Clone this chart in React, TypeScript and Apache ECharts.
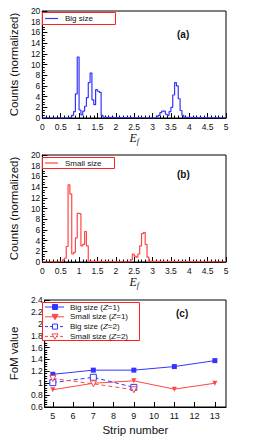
import React, { useEffect, useRef } from "react";
import * as echarts from "echarts";

// ---------- Data ----------
const BIN_WIDTH = 0.05;
// Panel (a) Big size: left bin edges and counts (only non-empty region)
const bigEdges = [0.70, 0.75, 0.80, 0.85, 0.90, 0.95, 1.00, 1.05, 1.10, 1.15, 1.20, 1.25, 1.30, 1.35, 1.40, 1.45, 1.50, 1.55, 1.60, 1.65,
  3.10, 3.15, 3.20, 3.25, 3.30, 3.35, 3.40, 3.45, 3.50, 3.55, 3.60, 3.65, 3.70, 3.75, 3.80, 3.85];
const bigCounts = [0.1, 0.2, 0.5, 1.2, 4.5, 11.4, 1.5, 0.6, 1.3, 2.2, 3.8, 6.6, 8.4, 3.4, 2.5, 5.3, 5.0, 4.8, 0.5, 0.1,
  0.2, 0.5, 1.0, 1.3, 1.3, 0.7, 0.5, 1.2, 2.0, 4.3, 6.6, 6.0, 3.6, 1.4, 0.5, 0.1];
// Panel (b) Small size
const smallEdges = [0.50, 0.55, 0.60, 0.65, 0.70, 0.75, 0.80, 0.85, 0.90, 0.95, 1.00, 1.05, 1.10, 1.15, 1.20, 1.25,
  2.35, 2.40, 2.45, 2.50, 2.55, 2.60, 2.65, 2.70, 2.75, 2.80, 2.85, 2.90];
const smallCounts = [0.1, 0.4, 0.7, 2.9, 14.4, 12.7, 1.5, 1.8, 4.5, 9.1, 9.0, 3.0, 3.3, 5.7, 3.0, 0.1,
  0.1, 0.4, 1.5, 1.1, 0.9, 1.5, 3.0, 5.3, 5.5, 3.3, 0.9, 0.1];

// Panel (c)
const strips = [5, 7, 9, 11, 13];
const bigZ1 = [1.15, 1.22, 1.22, 1.28, 1.38];
const smallZ1 = [0.89, 1.0, 1.04, 0.9, 1.0];
const stripsZ2 = [5, 7, 9];
const bigZ2 = [1.01, 1.1, 0.93];
const smallZ2 = [1.08, 0.99, 0.89];

const histXTicks = ["0", "0.5", "1", "1.5", "2", "2.5", "3", "3.5", "4", "4.5", "5"];
const stripTicks = [5, 6, 7, 8, 9, 10, 11, 12, 13];
const fomLegend = ["Big size (Z=1)", "Small size (Z=1)", "Big size (Z=2)", "Small size (Z=2)"];

const BLUE = "#3434ff";
const RED = "#ff4646";
const LEG_BORDER = "#ff2020";
const FONT = "Liberation Sans, Arial, sans-serif";

function histData(edges: number[], counts: number[]) {
  const d: number[][] = [[0, 0]];
  for (let i = 0; i < edges.length; i++) {
    const prevEnd = i > 0 ? edges[i - 1] + BIN_WIDTH : null;
    if (prevEnd !== null && Math.abs(prevEnd - edges[i]) > 1e-6) d.push([prevEnd, 0]);
    d.push([edges[i], counts[i]]);
  }
  d.push([edges[edges.length - 1] + BIN_WIDTH, 0]);
  d.push([5, 0]);
  return d;
}

export default function App() {
  const ref = useRef<HTMLDivElement>(null);
  useEffect(() => {
    if (!ref.current) return;
    const chart = echarts.init(ref.current, undefined, { renderer: "svg" });

    const tickLabel = { fontSize: 8.5, color: "#111", fontFamily: FONT };
    const gridBase = { show: true, borderColor: "#000", borderWidth: 1, backgroundColor: "transparent" };
    const efName = {
      name: "{e|E}{s|f}",
      nameLocation: "middle" as const,
      nameGap: 13,
      nameTextStyle: {
        rich: {
          e: { fontFamily: "Liberation Serif, serif", fontStyle: "italic", fontSize: 12, color: "#111" },
          s: { fontFamily: "Liberation Serif, serif", fontStyle: "italic", fontSize: 8, color: "#111", padding: [6, 0, 0, 0] },
        },
      },
    };
    const histX = (gi: number) => ({
      type: "value" as const,
      gridIndex: gi,
      min: 0,
      max: 5,
      interval: 0.5,
      axisLine: { show: true, lineStyle: { color: "#000" } },
      axisTick: { show: true, inside: true, length: 5, lineStyle: { color: "#000" } },
      minorTick: { show: true, splitNumber: 5, length: 2.5, lineStyle: { color: "#000" } },
      splitLine: { show: false },
      axisLabel: { ...tickLabel, margin: 4, formatter: (v: number) => histXTicks[Math.round(v * 2)] ?? "" },
      ...efName,
    });
    const histY = (gi: number) => ({
      type: "value" as const,
      gridIndex: gi,
      min: 0,
      max: 20,
      interval: 2,
      axisLine: { show: true, lineStyle: { color: "#000" } },
      axisTick: { show: true, inside: true, length: 5, lineStyle: { color: "#000" } },
      minorTick: { show: true, splitNumber: 4, length: 2.5, lineStyle: { color: "#000" } },
      splitLine: { show: false },
      axisLabel: { ...tickLabel, margin: 2 },
      name: "Counts (normalized)",
      nameLocation: "middle" as const,
      nameGap: 17,
      nameTextStyle: { fontSize: 11.5, fontFamily: FONT, color: "#111" },
    });

    const legendText = { fontSize: 8, fontFamily: FONT, fill: "#111" };

    // ----- graphic legends -----
    const graphics: any[] = [];
    const legBox = (x: number, y: number, w: number, h: number) => ({
      type: "rect",
      shape: { x: x + 0.5, y: y + 0.5, width: w, height: h },
      style: { fill: "#fff", stroke: LEG_BORDER, lineWidth: 1 },
      z: 100,
    });
    // (a)
    graphics.push(legBox(42, 12, 73, 12));
    graphics.push({ type: "line", shape: { x1: 45, y1: 18.5, x2: 58, y2: 18.5 }, style: { stroke: BLUE, lineWidth: 1.2 }, z: 101 });
    graphics.push({ type: "text", x: 65, y: 18.5, style: { ...legendText, text: "Big size", verticalAlign: "middle" }, z: 101 });
    // (b)
    graphics.push(legBox(42, 157, 72, 11));
    graphics.push({ type: "line", shape: { x1: 45, y1: 163, x2: 58, y2: 163 }, style: { stroke: RED, lineWidth: 1.2 }, z: 101 });
    graphics.push({ type: "text", x: 65, y: 163, style: { ...legendText, text: "Small size", verticalAlign: "middle" }, z: 101 });
    // (c)
    graphics.push(legBox(42, 302, 97, 38));
    const colors = [BLUE, RED, BLUE, RED];
    fomLegend.forEach((name, i) => {
      const y = 307 + i * 9.8;
      const c = colors[i];
      const dashed = i >= 2;
      graphics.push({
        type: "line",
        shape: { x1: 45, y1: y, x2: 64, y2: y },
        style: { stroke: c, lineWidth: 1, lineDash: dashed ? [3, 2] : null },
        z: 101,
      });
      const mx = 55;
      if (i % 2 === 0) {
        graphics.push({
          type: "rect",
          shape: { x: mx - 2.5, y: y - 2.5, width: 5, height: 5 },
          style: { fill: dashed ? "#fff" : c, stroke: c, lineWidth: 1 },
          z: 102,
        });
      } else {
        graphics.push({
          type: "polygon",
          shape: { points: [[mx - 3, y - 2.5], [mx + 3, y - 2.5], [mx, y + 2.8]] },
          style: { fill: dashed ? "#fff" : c, stroke: c, lineWidth: 1 },
          z: 102,
        });
      }
      const parts = name.split("Z");
      graphics.push({
        type: "text",
        x: 70,
        y,
        style: {
          text: `${parts[0]}{i|Z}${parts[1]}`,
          ...legendText,
          verticalAlign: "middle",
          rich: { i: { fontSize: 8, fontFamily: FONT, fontStyle: "italic", fill: "#111" } },
        },
        z: 101,
      });
    });

    chart.setOption({
      animation: false,
      grid: [
        { ...gridBase, left: 32, right: 34, top: 11, height: 107 },
        { ...gridBase, left: 32, right: 34, top: 155, height: 107 },
        { ...gridBase, left: 35, right: 34, top: 300, height: 109 },
      ],
      title: [
        { text: "(a)", left: 177, top: 29, textStyle: { fontSize: 10, fontWeight: "bold", fontFamily: FONT, color: "#111" } },
        { text: "(b)", left: 177, top: 169, textStyle: { fontSize: 10, fontWeight: "bold", fontFamily: FONT, color: "#111" } },
        { text: "(c)", left: 176, top: 308, textStyle: { fontSize: 10, fontWeight: "bold", fontFamily: FONT, color: "#111" } },
      ].map((t) => ({ ...t, padding: 0 })),
      graphic: graphics,
      xAxis: [
        histX(0),
        histX(1),
        {
          type: "value",
          gridIndex: 2,
          min: 4.6,
          max: 13.55,
          axisLine: { show: true, lineStyle: { color: "#000" } },
          axisTick: { show: true, inside: true, length: 5, lineStyle: { color: "#000" }, customValues: stripTicks },
          splitLine: { show: false },
          axisLabel: { ...tickLabel, fontSize: 9, margin: 4, customValues: stripTicks },
          name: "Strip number",
          nameLocation: "middle",
          nameGap: 17,
          nameTextStyle: { fontSize: 11.5, fontFamily: FONT, color: "#111" },
        },
      ],
      yAxis: [
        histY(0),
        histY(1),
        {
          type: "value",
          gridIndex: 2,
          min: 0.6,
          max: 2.4,
          interval: 0.2,
          axisLine: { show: true, lineStyle: { color: "#000" } },
          axisTick: { show: true, inside: true, length: 5, lineStyle: { color: "#000" } },
          minorTick: { show: true, splitNumber: 5, length: 2.5, lineStyle: { color: "#000" } },
          splitLine: { show: false },
          axisLabel: { ...tickLabel, margin: 2 },
          name: "FoM value",
          nameLocation: "middle",
          nameGap: 20,
          nameTextStyle: { fontSize: 11.5, fontFamily: FONT, color: "#111" },
        },
      ],
      series: [
        {
          name: "Big size",
          type: "line",
          xAxisIndex: 0,
          yAxisIndex: 0,
          step: "end",
          showSymbol: false,
          symbol: "none",
          color: BLUE,
          lineStyle: { width: 1.2, color: BLUE },
          data: histData(bigEdges, bigCounts),
        },
        {
          name: "Small size",
          type: "line",
          xAxisIndex: 1,
          yAxisIndex: 1,
          step: "end",
          showSymbol: false,
          symbol: "none",
          color: RED,
          lineStyle: { width: 1.2, color: RED },
          data: histData(smallEdges, smallCounts),
        },
        {
          name: fomLegend[0],
          type: "line",
          xAxisIndex: 2,
          yAxisIndex: 2,
          symbol: "rect",
          symbolSize: 5,
          color: BLUE,
          lineStyle: { width: 1, color: BLUE },
          itemStyle: { color: BLUE },
          data: strips.map((s, i) => [s, bigZ1[i]]),
        },
        {
          name: fomLegend[1],
          type: "line",
          xAxisIndex: 2,
          yAxisIndex: 2,
          symbol: "triangle",
          symbolRotate: 180,
          symbolSize: 5,
          color: RED,
          lineStyle: { width: 1, color: RED },
          itemStyle: { color: RED },
          data: strips.map((s, i) => [s, smallZ1[i]]),
        },
        {
          name: fomLegend[2],
          type: "line",
          xAxisIndex: 2,
          yAxisIndex: 2,
          symbol: "rect",
          symbolSize: 6,
          color: BLUE,
          lineStyle: { width: 1, color: BLUE, type: [4, 3] },
          itemStyle: { color: "#fff", borderColor: BLUE, borderWidth: 1 },
          data: stripsZ2.map((s, i) => [s, bigZ2[i]]),
        },
        {
          name: fomLegend[3],
          type: "line",
          xAxisIndex: 2,
          yAxisIndex: 2,
          symbol: "triangle",
          symbolRotate: 180,
          symbolSize: 6,
          color: RED,
          lineStyle: { width: 1, color: RED, type: [4, 3] },
          itemStyle: { color: "#fff", borderColor: RED, borderWidth: 1 },
          data: stripsZ2.map((s, i) => [s, smallZ2[i]]),
        },
      ],
    });
    return () => chart.dispose();
  }, []);
  return (
    <div
      ref={ref}
      style={{ position: "fixed", left: 0, top: 0, width: 260, height: 437, background: "#fff" }}
    />
  );
}
